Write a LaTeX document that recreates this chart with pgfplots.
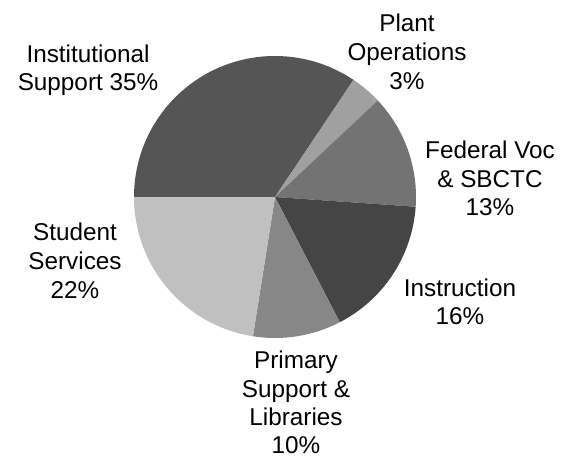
\documentclass[border=0pt]{standalone}
\usepackage{pgfplots}
\pgfplotsset{compat=1.18}
\usepackage{fontspec}
\setmainfont{Liberation Sans}
\definecolor{cInst}{HTML}{555555}
\definecolor{cPlant}{HTML}{A0A0A0}
\definecolor{cFed}{HTML}{737373}
\definecolor{cInstr}{HTML}{454545}
\definecolor{cPrim}{HTML}{878787}
\definecolor{cStud}{HTML}{C0C0C0}
\newcommand\lblfont{\fontsize{24.3}{29}\selectfont}
\tikzset{lbl/.style={font=\lblfont, anchor=base, inner sep=0pt}}
\begin{document}
\begin{tikzpicture}
\def\start{180}
\begin{axis}[
  x=1pt, y=1pt, xmin=0, xmax=568, ymin=0, ymax=460, y dir=reverse,
  hide axis, clip=false,
]
\path (axis cs:0,0) rectangle (axis cs:568,460);
% slice percentages (clockwise from 9 o'clock)
\foreach \v/\c in {34.4/cInst, 3.6/cPlant, 13.1/cFed, 16.3/cInstr, 10.1/cPrim, 22.5/cStud}{
  \pgfmathsetmacro\en{\start-3.6*\v}
  \edef\temp{\noexpand\fill[\c] (axis cs:275,197) -- ++(\start:141pt) arc[start angle=\start, end angle=\en, radius=141pt] -- cycle;}
  \temp
  \xdef\start{\en}
}
\node[lbl] at (axis cs:88,62.7) {Institutional};
\node[lbl] at (axis cs:88,90.7) {Support 35\%};
\node[lbl] at (axis cs:407,31.7) {Plant};
\node[lbl] at (axis cs:407,60.5) {Operations};
\node[lbl] at (axis cs:407,89.5) {3\%};
\node[lbl] at (axis cs:490,158) {Federal Voc};
\node[lbl] at (axis cs:490,187) {\& SBCTC};
\node[lbl] at (axis cs:490,215.5) {13\%};
\node[lbl] at (axis cs:460,296) {Instruction};
\node[lbl] at (axis cs:460,324) {16\%};
\node[lbl] at (axis cs:75,240) {Student};
\node[lbl] at (axis cs:75,269) {Services};
\node[lbl] at (axis cs:75,298) {22\%};
\node[lbl] at (axis cs:296,368) {Primary};
\node[lbl] at (axis cs:296,397) {Support \&};
\node[lbl] at (axis cs:296,425) {Libraries};
\node[lbl] at (axis cs:296,453) {10\%};
\end{axis}
\end{tikzpicture}
\end{document}
